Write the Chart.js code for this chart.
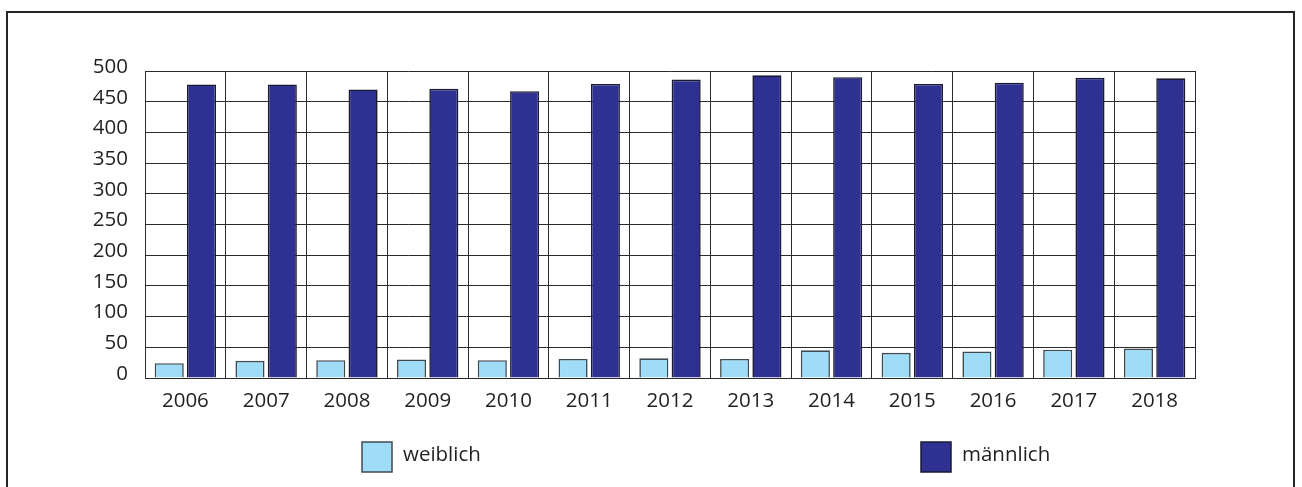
<!DOCTYPE html>
<html>
<head>
<meta charset="utf-8">
<script src="https://cdn.jsdelivr.net/npm/chart.js@4"></script>
<style>
  body { margin: 0; background: #fff; }
  #frame { position: absolute; left: 6px; top: 11px; width: 1285px; height: 500px; border: 2px solid #262626; }
  #wrap { position: absolute; left: 0; top: 0; width: 1302px; height: 487px; }
</style>
</head>
<body>
<div id="frame"></div>
<div id="wrap"><canvas id="chart" width="1302" height="487"></canvas></div>
<script>
// Jahre und Werte
const years = ['2006', '2007', '2008', '2009', '2010', '2011', '2012', '2013', '2014', '2015', '2016', '2017', '2018'];
const weiblich = [24, 28, 29, 30, 29, 31, 32, 31, 45, 41, 43, 46, 48];
const maennlich = [478, 478, 470, 471, 467, 479, 486, 493, 490, 479, 481, 489, 488];
const seriesNames = ['weiblich', 'männlich'];

const textColor = '#231f20';
const gridColor = '#2b2b2b';
const font = { family: 'Open Sans', size: 20.5 };

// Legend drawn by hand, the two entries sit far apart in the original
const legendPlugin = {
    id: 'spreadLegend',
    afterDraw(chart) {
        const ctx = chart.ctx;
        const spots = [362, 921];
        ctx.save();
        chart.data.datasets.forEach((ds, i) => {
            const x = spots[i];
            ctx.fillStyle = ds.backgroundColor;
            ctx.fillRect(x, 442, 30, 30);
            ctx.strokeStyle = ds.borderColor;
            ctx.lineWidth = 1.5;
            ctx.strokeRect(x, 442, 30, 30);
            ctx.fillStyle = textColor;
            ctx.font = font.size + 'px ' + font.family;
            ctx.textBaseline = 'middle';
            ctx.fillText(ds.label, x + 41, 455);
        });
        ctx.restore();
    }
};

new Chart(document.getElementById('chart').getContext('2d'), {
    type: 'bar',
    data: {
        labels: years,
        datasets: [
            {
                label: seriesNames[0],
                data: weiblich,
                backgroundColor: '#9edcf8',
                borderColor: '#3f4b53',
                borderWidth: 1.6,
                categoryPercentage: 0.8,
                barPercentage: 0.9
            },
            {
                label: seriesNames[1],
                data: maennlich,
                backgroundColor: '#2e3192',
                borderColor: '#1a1a33',
                borderWidth: 1.6,
                categoryPercentage: 0.8,
                barPercentage: 0.9
            }
        ]
    },
    options: {
        responsive: false,
        animation: false,
        layout: { padding: { top: 71, right: 107, bottom: 69, left: 0 } },
        plugins: {
            legend: { display: false },
            tooltip: { enabled: false }
        },
        scales: {
            x: {
                afterFit: (scale) => { scale.height = 40; },
                grid: { color: gridColor, lineWidth: 1, drawTicks: false, offset: true },
                border: { color: gridColor },
                ticks: { color: textColor, font: font, padding: 11, maxRotation: 0 }
            },
            y: {
                min: 0,
                max: 500,
                afterFit: (scale) => { scale.width = 145; },
                grid: { color: gridColor, lineWidth: 1, drawTicks: false },
                border: { color: gridColor },
                ticks: { stepSize: 50, color: textColor, font: font, padding: 17, labelOffset: -4 }
            }
        }
    },
    plugins: [legendPlugin]
});
</script>
</body>
</html>
